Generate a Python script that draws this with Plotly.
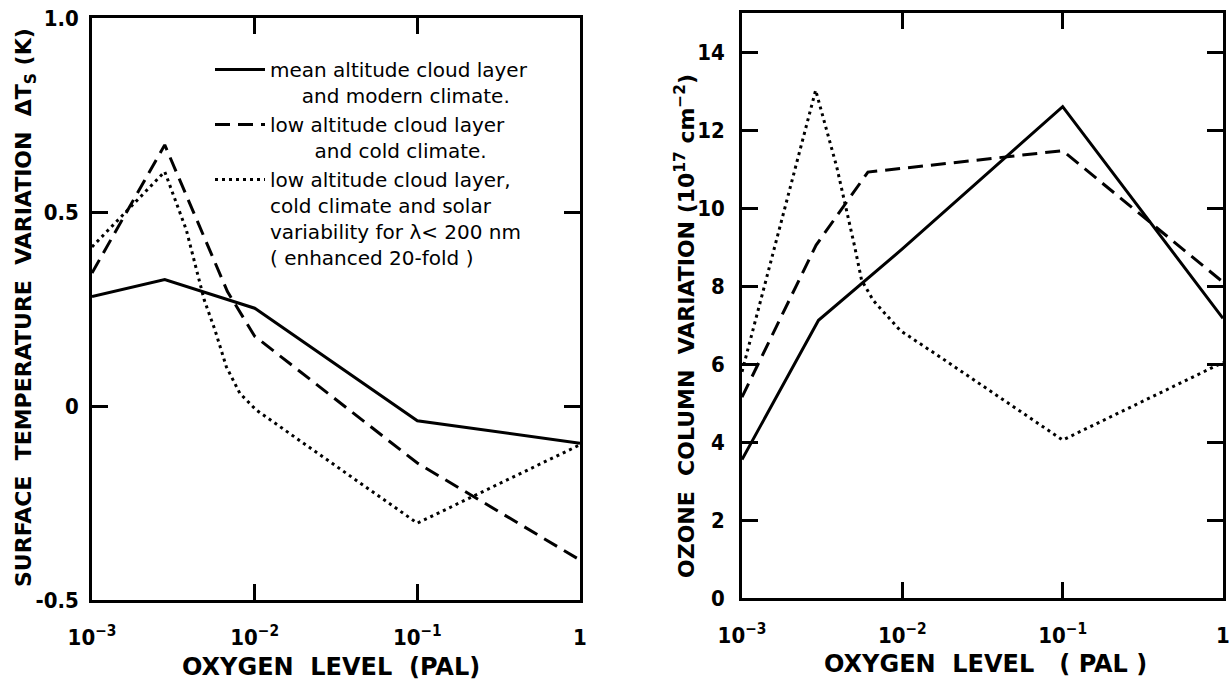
import plotly.graph_objects as go

# ---------------- data ----------------
# Left panel: surface temperature variation dTs (K) vs oxygen level (PAL)
x_solid_T = [0.001, 0.0028, 0.01, 0.1, 1]
y_solid_T = [0.282, 0.326, 0.252, -0.038, -0.096]

x_dash_T = [0.001, 0.0028, 0.0068, 0.01, 0.1, 1]
y_dash_T = [0.343, 0.673, 0.295, 0.18, -0.147, -0.397]

x_dot_T = [0.001, 0.0028, 0.0038, 0.0044, 0.0049, 0.0057, 0.0067, 0.0081, 0.0102, 0.1, 1]
y_dot_T = [0.41, 0.604, 0.454, 0.35, 0.273, 0.196, 0.101, 0.033, -0.01, -0.302, -0.1]

# Right panel: ozone column variation (1e17 cm^-2) vs oxygen level (PAL)
x_solid_O = [0.001, 0.003, 0.01, 0.1, 1]
y_solid_O = [3.55, 7.12, 8.95, 12.6, 7.17]

x_dash_O = [0.001, 0.0029, 0.0061, 0.1, 1]
y_dash_O = [5.15, 9.05, 10.92, 11.47, 8.1]

x_dot_O = [0.001, 0.00288, 0.0039, 0.00445, 0.00505, 0.00557, 0.00659, 0.00969, 0.0172, 0.1, 1]
y_dot_O = [5.8, 13.02, 11.05, 10.03, 9.0, 8.15, 7.63, 6.86, 6.18, 4.05, 6.04]

series_names = [
    "mean altitude cloud layer<br>&nbsp;&nbsp;&nbsp;&nbsp;&nbsp;and modern climate.",
    "low altitude cloud layer<br>&nbsp;&nbsp;&nbsp;&nbsp;&nbsp;&nbsp;&nbsp;and cold climate.",
    "low altitude cloud layer,<br>cold climate and solar<br>variability for λ< 200 nm<br>( enhanced 20-fold )",
]

x_tickvals = [0.001, 0.01, 0.1, 1]
x_ticktext = ["10<sup>−3</sup>", "10<sup>−2</sup>", "10<sup>−1</sup>", "1"]
yT_tickvals = [-0.5, 0, 0.5, 1.0]
yT_ticktext = ["-0.5", "0", "0.5", "1.0"]
yO_tickvals = [0, 2, 4, 6, 8, 10, 12, 14]

# ---------------- figure ----------------
W, H = 1229, 684
styles = [
    dict(color="black", width=3, dash="solid"),
    dict(color="black", width=3, dash="15px,8px"),
    dict(color="black", width=3, dash="3px,4px"),
]

fig = go.Figure()
left = [(x_solid_T, y_solid_T), (x_dash_T, y_dash_T), (x_dot_T, y_dot_T)]
right = [(x_solid_O, y_solid_O), (x_dash_O, y_dash_O), (x_dot_O, y_dot_O)]
for i, (xs, ys) in enumerate(left):
    fig.add_trace(go.Scatter(x=xs, y=ys, mode="lines", line=styles[i],
                             name=series_names[i], xaxis="x", yaxis="y",
                             showlegend=True, hoverinfo="skip"))
for i, (xs, ys) in enumerate(right):
    fig.add_trace(go.Scatter(x=xs, y=ys, mode="lines", line=styles[i],
                             name=series_names[i], xaxis="x2", yaxis="y2",
                             showlegend=False, hoverinfo="skip"))

tickfont = dict(family="DejaVu Sans Condensed", size=22, color="black", weight="bold")
common = dict(showline=True, linecolor="black", linewidth=2.5, mirror="ticks",
              ticks="inside", ticklen=16, tickwidth=2.5, tickcolor="black",
              showgrid=False, zeroline=False, tickfont=tickfont, automargin=False,
              ticklabeloverflow="allow")

def px_x(p):
    return p / W

def px_y(p):
    return 1 - p / H

fig.update_layout(
    width=W, height=H,
    margin=dict(l=0, r=0, t=0, b=0, autoexpand=False),
    paper_bgcolor="white", plot_bgcolor="white",
    xaxis=dict(type="log", range=[-3, 0], domain=[px_x(92), px_x(580)], anchor="y",
               tickvals=x_tickvals, ticktext=x_ticktext, ticklabelstandoff=16, **common),
    yaxis=dict(range=[-0.5, 1.0], domain=[px_y(600), px_y(18)], anchor="x",
               tickvals=yT_tickvals, ticktext=yT_ticktext, ticklabelstandoff=6, **common),
    xaxis2=dict(type="log", range=[-3, 0], domain=[px_x(742), px_x(1223)], anchor="y2",
                tickvals=x_tickvals, ticktext=x_ticktext, ticklabelstandoff=16, **common),
    yaxis2=dict(range=[0, 15], domain=[px_y(598), px_y(13)], anchor="x2",
                tickvals=yO_tickvals, ticklabelstandoff=10, **common),
    legend=dict(x=px_x(210), y=px_y(50), xanchor="left", yanchor="top",
                bgcolor="rgba(0,0,0,0)", valign="top", itemwidth=50,
                font=dict(family="DejaVu Sans", size=20, color="black")),
    showlegend=True,
)

title_font = dict(family="DejaVu Sans", size=22, color="black", weight="bold")
xtitle_font = dict(family="DejaVu Sans", size=24, color="black", weight="bold")
annotations = [
    dict(text="SURFACE  TEMPERATURE  VARIATION  ΔT<sub>S</sub> (K)", x=px_x(26), y=px_y(308),
         textangle=-90, font=title_font),
    dict(text="OXYGEN  LEVEL  (PAL)", x=px_x(331), y=px_y(667), font=xtitle_font),
    dict(text="OZONE  COLUMN  VARIATION (10<sup>17</sup> cm<sup>−2</sup>)", x=px_x(685), y=px_y(326),
         textangle=-90, font=title_font),
    dict(text="OXYGEN  LEVEL   ( PAL )", x=px_x(985), y=px_y(664), font=xtitle_font),
]
for a in annotations:
    a.update(xref="paper", yref="paper", showarrow=False, xanchor="center", yanchor="middle")
fig.update_layout(annotations=annotations)

fig.write_html("out.html")
